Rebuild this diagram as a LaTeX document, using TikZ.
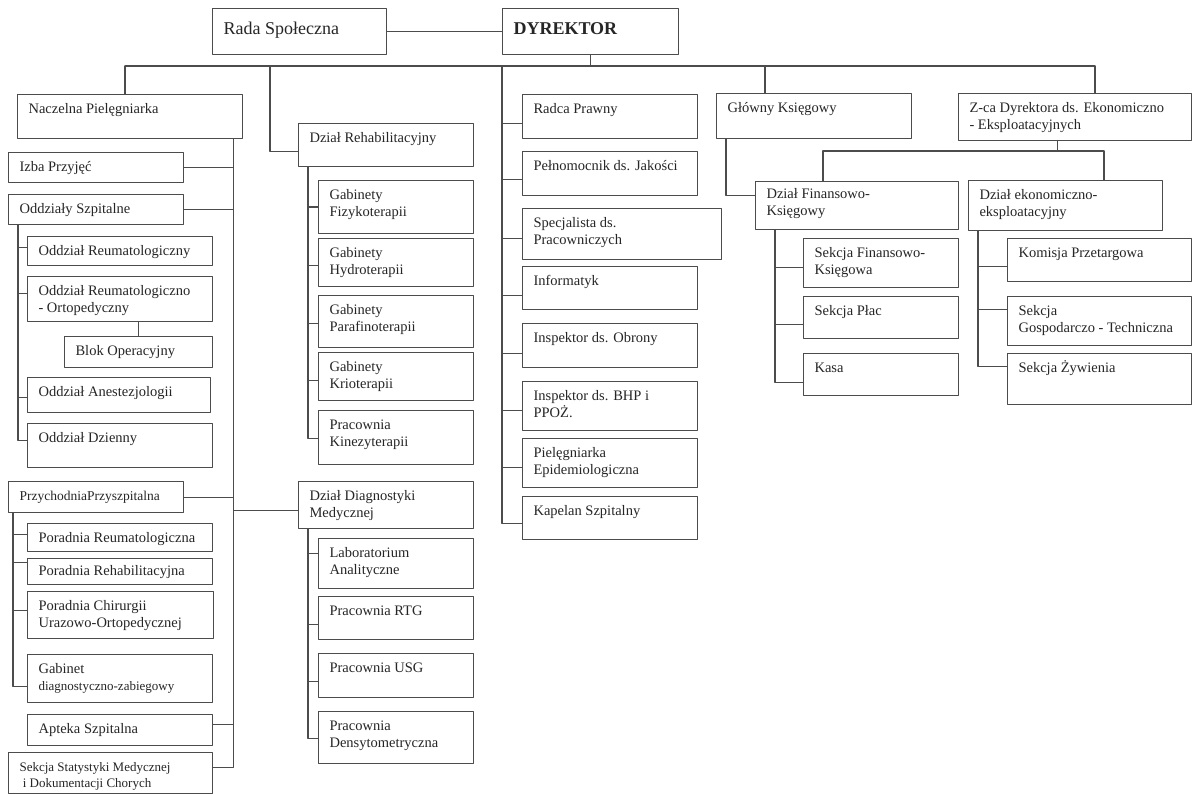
\documentclass[tikz,border=0pt]{standalone}
\usepackage{fontspec}
\setmainfont{Liberation Serif}
\newcommand{\org}[4][19]{\parbox[t][#3pt][t]{#2pt}{\raggedright\leftskip=11pt\rule{0pt}{#1pt}#4}}
\begin{document}
\begin{tikzpicture}[x=1pt, y=-1pt, font=\fontsize{14.5}{16.5}\selectfont, line join=round, line cap=round,
	box/.style={draw=black!70, line width=1.1pt, anchor=north west, inner sep=0pt, text=black!85},
	link/.style={draw=black!70, line width=1.1pt}]
	%			\draw[gray,xstep = 50, ystep = 50] (0,0) grid (1192,794);
	\path[fill=white, use as bounding box] (0,0) rectangle (1192,794);
	
	\node[box] (rada) at (212,8) {\fontsize{18}{21}\selectfont\org[26]{174}{46}{Rada Społeczna}};
	\node[box] (dyr) at (502,8) {\fontsize{18}{21}\selectfont\org[26]{176}{46}{\textbf{DYREKTOR}}};
	
	\node[box] (np) at (17,94) {\org{225}{44}{Naczelna Pielęgniarka}};
	\node[box] (izba) at (8,152) {\org{175}{30}{Izba Przyjęć}};
	\node[box] (oddz) at (8,194) {\org{175}{30}{Oddziały Szpitalne}};
	\node[box] (oreum) at (27,236) {\org{185}{29}{Oddział Reumatologiczny}};
	\node[box] (oro) at (27,276) {\org{185}{45}{Oddział Reumatologiczno\\- Ortopedyczny}};
	\node[box] (blok) at (64,336) {\org{148}{31}{Blok Operacyjny}};
	\node[box] (oanest) at (27,377) {\org{183}{35}{Oddział Anestezjologii}};
	\node[box] (odz) at (27,423) {\org{185}{44}{Oddział Dzienny}};
	\node[box] (przy) at (8,481) {\org{175}{31}{\fontsize{13.5}{16}\selectfont PrzychodniaPrzyszpitalna}};
	\node[box] (preum) at (27,523) {\org{185}{28}{Poradnia Reumatologiczna}};
	\node[box] (preh) at (27,558) {\org[17]{185}{26}{Poradnia Rehabilitacyjna}};
	\node[box] (pchir) at (27,591) {\org{186}{47}{Poradnia Chirurgii\\Urazowo-Ortopedycznej}};
	\node[box] (gab) at (27,654) {\org{185}{48}{Gabinet\\{\fontsize{13}{15}\selectfont diagnostyczno-zabiegowy}}};
	\node[box] (apt) at (27,714) {\org{185}{31}{Apteka Szpitalna}};
	\node[box] (sst) at (8,752) {\org{204}{41}{\fontsize{13}{16}\selectfont Sekcja Statystyki Medycznej\\\ i Dokumentacji Chorych}};
	
	\node[box] (drb) at (298,123) {\org{175}{43}{Dział Rehabilitacyjny}};
	\node[box] (gfiz) at (318,180) {\org{155}{53}{Gabinety\\Fizykoterapii}};
	\node[box] (ghyd) at (318,238) {\org{155}{48}{Gabinety\\Hydroterapii}};
	\node[box] (gpar) at (318,295) {\org{155}{52}{Gabinety\\Parafinoterapii}};
	\node[box] (gkri) at (318,352) {\org{155}{48}{Gabinety\\Krioterapii}};
	\node[box] (pkin) at (318,410) {\org{155}{54}{Pracownia\\Kinezyterapii}};
	\node[box] (ddm) at (298,481) {\org{175}{47}{Dział Diagnostyki\\Medycznej}};
	\node[box] (lab) at (318,538) {\org{155}{50}{Laboratorium\\Analityczne}};
	\node[box] (rtg) at (318,596) {\org{155}{43}{Pracownia RTG}};
	\node[box] (usg) at (318,653) {\org{155}{44}{Pracownia USG}};
	\node[box] (dens) at (318,711) {\org{155}{52}{Pracownia\\Densytometryczna}};
	
	\node[box] (rp) at (522,94) {\org{175}{44}{Radca Prawny}};
	\node[box] (pj) at (522,151) {\org{175}{44}{Pełnomocnik ds. Jakości}};
	\node[box] (sp) at (522,208) {\org{199}{51}{Specjalista ds.\\Pracowniczych}};
	\node[box] (inf) at (522,266) {\org{175}{43}{Informatyk}};
	\node[box] (iob) at (522,323) {\org{175}{44}{Inspektor ds. Obrony}};
	\node[box] (bhp) at (522,381) {\org{175}{49}{Inspektor ds. BHP i\\PPOŻ.}};
	\node[box] (pep) at (522,438) {\org{175}{49}{Pielęgniarka\\Epidemiologiczna}};
	\node[box] (kap) at (522,496) {\org{175}{43}{Kapelan Szpitalny}};
	
	\node[box] (gk) at (716,93) {\org{195}{45}{Główny Księgowy}};
	\node[box] (dfk) at (755,181) {\org[17]{203}{48}{Dział Finansowo-\\Księgowy}};
	\node[box] (sfk) at (803,238) {\org{155}{49}{Sekcja Finansowo-\\Księgowa}};
	\node[box] (spl) at (803,296) {\org{155}{42}{Sekcja Płac}};
	\node[box] (kasa) at (803,353) {\org{155}{42}{Kasa}};
	
	\node[box] (zca) at (958,93) {\org{233}{47}{Z-ca Dyrektora ds. Ekonomiczno\\- Eksploatacyjnych}};
	\node[box] (dee) at (968,180) {\org{194}{50}{Dział ekonomiczno-\\eksploatacyjny}};
	\node[box] (kp) at (1007,238) {\org{184}{43}{Komisja Przetargowa}};
	\node[box] (sgt) at (1007,296) {\org{184}{49}{Sekcja\\Gospodarczo - Techniczna}};
	\node[box] (szy) at (1007,353) {\org{184}{51}{Sekcja Żywienia}};
	
	\path
	(125,66) coordinate (busL)
	(1095,66) coordinate (busR)
	(270,66) coordinate (rh)
	(502,66) coordinate (sv)
	(765,66) coordinate (gd)
	(823,151) coordinate (zb1)
	(1104,151) coordinate (zb2)
	([xshift=-10pt]np.south east) coordinate (nv)
	([xshift=10pt]oddz.south west) coordinate (ov)
	([xshift=5pt]przy.south west) coordinate (pv)
	([xshift=10pt]drb.south west) coordinate (rv)
	([xshift=10pt]ddm.south west) coordinate (dv)
	([xshift=10pt]gk.south west) coordinate (gv)
	([xshift=-17.5pt]zca.south) coordinate (zs)
	([xshift=20pt]dfk.south west) coordinate (fv)
	([xshift=10pt]dee.south west) coordinate (ev)
	;
	
	\draw[link] (rada.east) -- (dyr.west)
	(dyr.south) -- (dyr.south |- busL)
	(busL) -- (busR)
	(busL) -- (busL |- np.north)
	(gd) -- (gd |- gk.north)
	(busR) -- (busR |- zca.north)
	(rh) |- ([yshift=-6.5pt]drb.west)
	(blok.north) -- (blok.north |- oro.south)
	(gv) |- ([yshift=10pt]dfk.west)
	(zs) -- (zs |- zb1)
	(zb1 |- dfk.north) -- (zb1) -- (zb2) -- (zb2 |- dee.north)
	;
	\draw[link] (nv) |- (izba.east) (nv) |- (oddz.east) (nv) |- (przy.east)
	(nv) |- ([yshift=5.5pt]apt.east) (nv) |- ([yshift=5.5pt]sst.east)
	(nv) |- ([yshift=-5.5pt]ddm.west);
	
	\foreach \n/\d in {oreum/3.5pt, oro/5.5pt, oanest/-2.5pt, odz/5pt}
	\draw[link] (ov) |- ([yshift=\d]\n.west);
	\foreach \n/\d in {preum/3pt, preh/9pt, pchir/4.5pt, gab/-8pt}
	\draw[link] (pv) |- ([yshift=\d]\n.west);
	\foreach \n/\d in {gfiz/0pt, ghyd/-3pt, gpar/-2pt, gkri/-4pt, pkin/-1pt}
	\draw[link] (rv) |- ([yshift=\d]\n.west);
	\foreach \n/\d in {lab/10pt, rtg/-6.5pt, usg/-6pt, dens/-1pt}
	\draw[link] (dv) |- ([yshift=\d]\n.west);
	\foreach \n/\d in {rp/-7pt, pj/-6pt, sp/-4.5pt, inf/-7.5pt, iob/-8pt, bhp/-4.5pt, pep/-4.5pt, kap/-5.5pt}
	\draw[link] (sv) |- ([yshift=\d]\n.west);
	\foreach \n/\d in {sfk/-4.5pt, spl/-7pt, kasa/-8pt}
	\draw[link] (fv) |- ([yshift=\d]\n.west);
	\foreach \n/\d in {kp/-6.5pt, sgt/11.5pt, szy/12.5pt}
	\draw[link] (ev) |- ([yshift=\d]\n.west);
\end{tikzpicture}
\end{document}
